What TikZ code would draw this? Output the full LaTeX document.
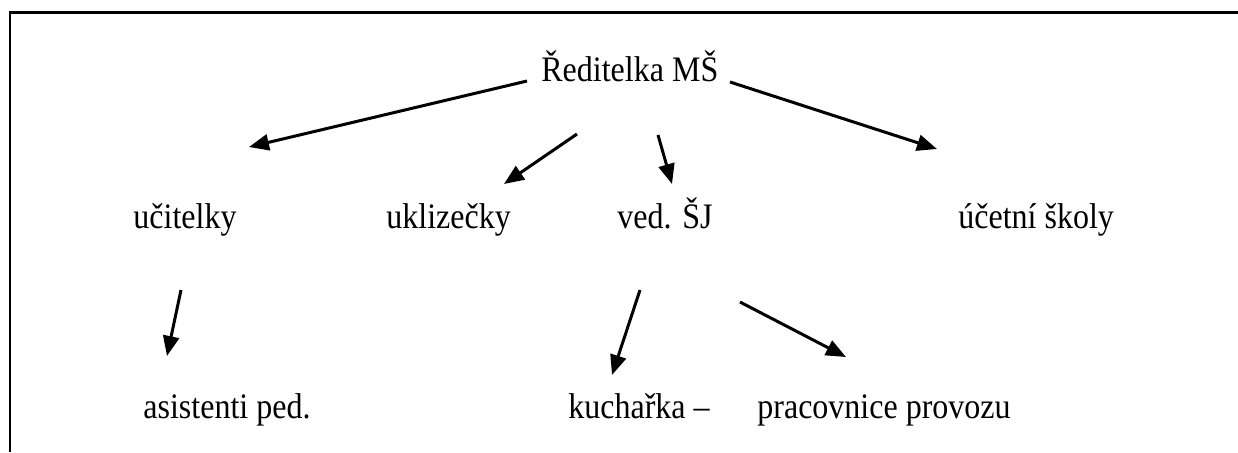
\documentclass[tikz,border=0pt]{standalone}
\usepackage{fontspec}
\setmainfont{Liberation Serif}
\usetikzlibrary{arrows.meta}
\begin{document}
\begin{tikzpicture}[x=0.5pt,y=-0.5pt,
  lbl/.style={anchor=base west,inner sep=0pt,font=\fontsize{16pt}{19pt}\selectfont,yscale=1.12,transform shape},
  conn/.style={line width=1.5pt,-{Triangle[length=10pt,width=8pt]}},
  frame/.style={line width=1.3pt}]
\useasboundingbox (0,0) rectangle (1238,452);
\draw[frame] (10,452) -- (10,12.5) -- (1238,12.5);
\node[lbl] (red) at (541,81) {Ředitelka MŠ};
\node[lbl] (uc) at (133,228) {učitelky};
\node[lbl] (uk) at (386,228) {uklizečky};
\node[lbl] (ved) at (617,228) {ved. ŠJ};
\node[lbl] (uct) at (958,228) {účetní školy};
\node[lbl] (as) at (143,418) {asistenti ped.};
\node[lbl] (ku) at (568,418) {kuchařka –};
\node[lbl] (pr) at (757,418) {pracovnice provozu};
\coordinate (a1s) at (527,81);  \coordinate (a1e) at (249,147);
\coordinate (a2s) at (577,134); \coordinate (a2e) at (504,184);
\coordinate (a3s) at (658,135); \coordinate (a3e) at (672,184);
\coordinate (a4s) at (730,82);  \coordinate (a4e) at (937,149);
\coordinate (a5s) at (181,290); \coordinate (a5e) at (167,356);
\coordinate (a6s) at (640,290); \coordinate (a6e) at (612,375);
\coordinate (a7s) at (740,302); \coordinate (a7e) at (846,357);
\draw[conn] (a1s) -- (a1e);
\draw[conn] (a2s) -- (a2e);
\draw[conn] (a3s) -- (a3e);
\draw[conn] (a4s) -- (a4e);
\draw[conn] (a5s) -- (a5e);
\draw[conn] (a6s) -- (a6e);
\draw[conn] (a7s) -- (a7e);
\end{tikzpicture}
\end{document}
